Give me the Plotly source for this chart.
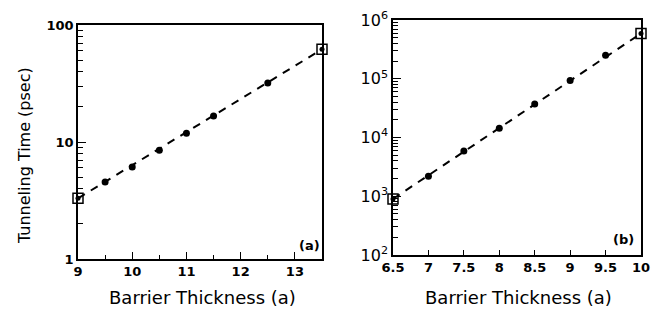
import plotly.graph_objects as go

# Panel (a)
a_x = [9.5, 10, 10.5, 11, 11.5, 12.5]
a_y = [4.55, 6.1, 8.5, 11.9, 16.7, 31.9]
a_sq_x = [9, 13.5]
a_sq_y = [3.3, 62.0]
a_fit_x = [9, 13.5]
a_fit_y = [3.3, 62.0]

# Panel (b)
b_x = [7, 7.5, 8, 8.5, 9, 9.5]
b_y = [2200, 5900, 14400, 37000, 93000, 250000]
b_sq_x = [6.5, 10]
b_sq_y = [900, 590000]
b_fit_x = [6.5, 10]
b_fit_y = [900, 590000]

a_xticks = [9, 10, 11, 12, 13]
a_yticks = [1, 10, 100]
b_xticks = [6.5, 7, 7.5, 8, 8.5, 9, 9.5, 10]
b_xticklabels = ["6.5", "7", "7.5", "8", "8.5", "9", "9.5", "10"]
b_yticks = [100, 1000, 10000, 100000, 1000000]
b_yticklabels = ["10<sup>2</sup>", "10<sup>3</sup>", "10<sup>4</sup>", "10<sup>5</sup>", "10<sup>6</sup>"]

FONT = "DejaVu Sans"
W, H = 660, 314
OFF = 8  # default page body margin

def px(x):
    return (x - OFF) / W

def py(y):
    return 1 - (y - OFF) / H

fig = go.Figure()

def add_panel(fig, xa, ya, fx, fy, mx, my, sx, sy):
    fig.add_trace(go.Scatter(x=fx, y=fy, mode="lines", xaxis=xa, yaxis=ya,
                             line=dict(color="black", width=2, dash="8px,7px"),
                             showlegend=False, hoverinfo="skip"))
    fig.add_trace(go.Scatter(x=mx, y=my, mode="markers", xaxis=xa, yaxis=ya,
                             marker=dict(color="black", size=7, symbol="circle"),
                             showlegend=False))
    fig.add_trace(go.Scatter(x=sx, y=sy, mode="markers", xaxis=xa, yaxis=ya,
                             marker=dict(color="black", size=10, symbol="square-open",
                                         line=dict(width=1.5)),
                             showlegend=False, cliponaxis=False))
    fig.add_trace(go.Scatter(x=sx, y=sy, mode="markers", xaxis=xa, yaxis=ya,
                             marker=dict(color="black", size=5, symbol="circle"),
                             showlegend=False, cliponaxis=False))

add_panel(fig, "x", "y", a_fit_x, a_fit_y, a_x, a_y, a_sq_x, a_sq_y)
add_panel(fig, "x2", "y2", b_fit_x, b_fit_y, b_x, b_y, b_sq_x, b_sq_y)

tickfont = dict(family=FONT, size=13, color="black", weight="bold")
common = dict(showline=True, linecolor="black", linewidth=1.5, mirror=True,
              showgrid=False, zeroline=False, ticks="inside", tickcolor="black",
              tickwidth=1.2, tickfont=tickfont, automargin=False)

fig.update_layout(
    width=W, height=H,
    margin=dict(l=0, r=0, t=0, b=0, autoexpand=False),
    paper_bgcolor="white", plot_bgcolor="white",
    xaxis=dict(domain=[px(78), px(322)], range=[9, 13.5], tickvals=a_xticks,
               ticklen=7, anchor="y",
               minor=dict(dtick=0.5, tick0=9, ticks="inside", ticklen=4, tickcolor="black"),
               **common),
    yaxis=dict(domain=[py(259), py(25)], type="log", range=[0, 2],
               tickvals=a_yticks, ticklen=8, anchor="x",
               minor=dict(dtick="D1", ticks="inside", ticklen=5, tickcolor="black"),
               **common),
    xaxis2=dict(domain=[px(393), px(641)], range=[6.5, 10], tickvals=b_xticks,
                ticktext=b_xticklabels, ticklen=5, anchor="y2", **common),
    yaxis2=dict(domain=[py(255), py(20)], type="log", range=[2, 6],
                tickvals=b_yticks, ticktext=b_yticklabels, ticklen=8, anchor="x2",
                minor=dict(dtick="D1", ticks="inside", ticklen=5, tickcolor="black"),
                **dict(common, tickfont=dict(family=FONT, size=16, color="black"))),
)

def ann(text, x, y, font, angle=0):
    fig.add_annotation(text=text, x=px(x), y=py(y), xref="paper", yref="paper",
                       xanchor="center", yanchor="middle", textangle=angle,
                       showarrow=False, font=font)

ann("Tunneling Time (psec)", 24, 156, dict(family=FONT, size=16, color="black"), -90)
ann("Barrier Thickness (a)", 202, 297, dict(family=FONT, size=18, color="black"))
ann("Barrier Thickness (a)", 518, 297, dict(family=FONT, size=18, color="black"))
ann("(a)", 309, 245, dict(family=FONT, size=13, color="black", weight="bold"))
ann("(b)", 623, 240, dict(family=FONT, size=13, color="black", weight="bold"))

fig.write_html("out.html")
